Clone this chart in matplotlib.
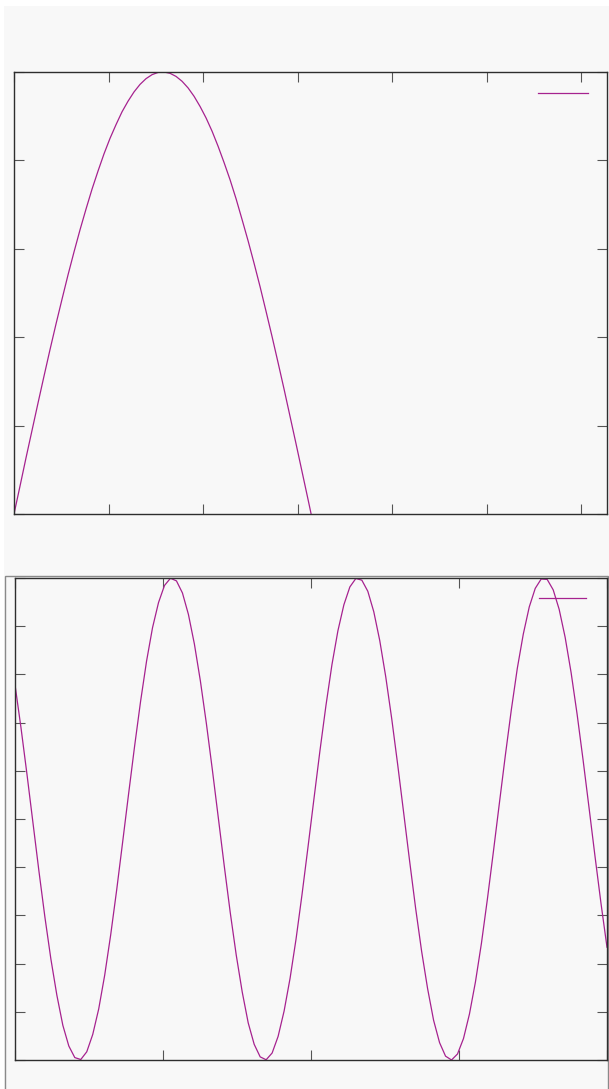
import numpy as np
import matplotlib

matplotlib.use("Agg")
import matplotlib.pyplot as plt  # noqa: E402
from matplotlib.patches import Rectangle  # noqa: E402

LINE = "#a6228f"
SPINE = "#2e2e2e"
BG = "#f8f8f8"

top_y = [
    0.0, 0.063, 0.127, 0.189, 0.251, 0.312, 0.372, 0.430, 0.486, 0.541,
    0.593, 0.643, 0.690, 0.735, 0.776, 0.815, 0.850, 0.881, 0.910, 0.934,
    0.955, 0.972, 0.985, 0.994, 0.999, 1.000, 0.997, 0.990, 0.979, 0.964,
    0.945, 0.922, 0.896, 0.866, 0.832, 0.795, 0.756, 0.713, 0.666, 0.618,
    0.567, 0.514, 0.458, 0.401, 0.342, 0.282, 0.220, 0.158, 0.095, 0.032,
    -0.032,
]
top_x = np.linspace(0, 2 * np.pi, 100)[: len(top_y)]
top_xticks = [0, 1, 2, 3, 4, 5, 6]
top_yticks = [0.0, 0.2, 0.4, 0.6, 0.8, 1.0]

# bottom panel: fast oscillation, 100 samples
bot_y = [
    0.557, 0.379, 0.186, -0.015, -0.216, -0.407, -0.581, -0.731, -0.856, -0.942,
    -0.990, -0.998, -0.966, -0.894, -0.788, -0.648, -0.481, -0.295, -0.096, 0.105,
    0.302, 0.488, 0.655, 0.794, 0.898, 0.969, 0.999, 0.988, 0.938, 0.849,
    0.726, 0.573, 0.397, 0.205, 0.005, -0.196, -0.389, -0.565, -0.718, -0.846,
    -0.935, -0.987, -0.999, -0.971, -0.902, -0.797, -0.661, -0.498, -0.313, -0.116,
    0.085, 0.284, 0.471, 0.640, 0.781, 0.889, 0.963, 0.998, 0.991, 0.945,
    0.860, 0.740, 0.590, 0.416, 0.225, 0.025, -0.176, -0.371, -0.549, -0.704,
    -0.835, -0.928, -0.984, -1.000, -0.975, -0.911, -0.809, -0.676, -0.516, -0.332,
    -0.136, 0.065, 0.264, 0.453, 0.625, 0.767, 0.880, 0.957, 0.996, 0.994,
    0.951, 0.870, 0.754, 0.607, 0.435, 0.245, 0.046, -0.156, -0.351, -0.532,
]
bot_x = np.linspace(0, 4, len(bot_y))
bot_xticks = [0, 1, 2, 3, 4]
bot_yticks = [round(-1 + 0.2 * k, 1) for k in range(11)]

W, H = 609, 1089
fig = plt.figure(figsize=(W / 100, H / 100), dpi=100, facecolor="white")

# light page background and frame around the lower plot
fig.patches.append(Rectangle((4 / W, 0), 1, 1 - 6 / H, transform=fig.transFigure,
                             facecolor=BG, edgecolor="none", zorder=-10))
fig.patches.append(Rectangle((4.5 / W, -0.01), 603.5 / W, 1 - 576 / H + 0.01,
                             transform=fig.transFigure, facecolor="none",
                             edgecolor="#8a8a8a", linewidth=1.0, zorder=-5))


def style_axes(ax):
    ax.set_facecolor(BG)
    for sp in ax.spines.values():
        sp.set_color(SPINE)
        sp.set_linewidth(1.0)
    ax.tick_params(direction="in", length=7.2, width=0.8, color="#555555",
                   top=True, right=True, labelbottom=False, labelleft=False)


def add_legend(ax, line, right_px, top_px, hlen):
    ax.legend([line], [" "], loc="upper right", frameon=False, fontsize=10,
              handlelength=hlen, handletextpad=0.2, borderpad=0, borderaxespad=0,
              bbox_to_anchor=(right_px / W, 1 - top_px / H),
              bbox_transform=fig.transFigure)


ax1 = fig.add_axes([14 / W, 1 - 514 / H, 593 / W, 442 / H])
style_axes(ax1)
l1, = ax1.plot(top_x, top_y, color=LINE, linewidth=0.9)
ax1.set_xlim(0, 6.27)
ax1.set_ylim(0, 1)
ax1.set_xticks(top_xticks)
ax1.set_yticks(top_yticks)
add_legend(ax1, l1, 595, 87, 3.6)

ax2 = fig.add_axes([15 / W, 1 - 1060 / H, 592 / W, 482 / H])
style_axes(ax2)
l2, = ax2.plot(bot_x, bot_y, color=LINE, linewidth=0.9)
ax2.set_xlim(0, 4)
ax2.set_ylim(-1, 1)
ax2.set_xticks(bot_xticks)
ax2.set_yticks(bot_yticks)
add_legend(ax2, l2, 593, 592, 3.4)

fig.savefig("out.png", dpi=100, facecolor=fig.get_facecolor())
